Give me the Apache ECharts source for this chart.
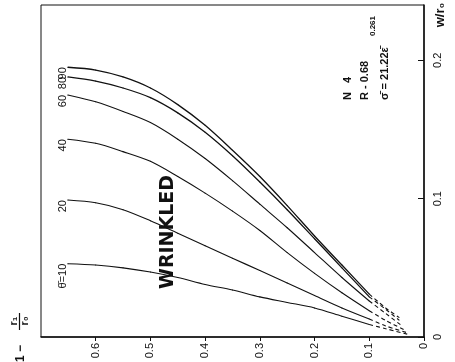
<!DOCTYPE html>
<html><head><meta charset="utf-8">
<script src="https://cdn.jsdelivr.net/npm/echarts@6/dist/echarts.min.js"></script>
<style>html,body{margin:0;padding:0;background:#fff}#c{width:455px;height:362px}</style>
</head><body><div id="c"></div>
<script>
// horizontal quantity: 1 - r1/r0 ; vertical quantity: w/r0
const ratioGrid = [0.651, 0.60, 0.55, 0.50, 0.45, 0.40, 0.35, 0.30, 0.25, 0.20, 0.15, 0.10, 0.07];
const curveNames = ['θ̄=10', '20', '40', '60', '80', '90'];
const tailRatio = [0.03, 0.03, 0.035, 0.04, 0.045, 0.045];
const w10 = [0.053,0.052,0.050,0.047,0.043,0.038,0.034,0.029,0.025,0.021,0.015,0.009,0.006,0.002];
const w20 = [0.099,0.097,0.092,0.084,0.075,0.066,0.057,0.048,0.039,0.030,0.021,0.013,0.008,0.003];
const w40 = [0.143,0.140,0.134,0.127,0.116,0.104,0.091,0.077,0.061,0.046,0.032,0.019,0.012,0.005];
const w60 = [0.175,0.170,0.163,0.155,0.143,0.129,0.113,0.096,0.079,0.061,0.043,0.026,0.017,0.008];
const w80 = [0.188,0.185,0.180,0.173,0.162,0.148,0.131,0.112,0.092,0.071,0.050,0.029,0.020,0.012];
const w90 = [0.195,0.193,0.188,0.180,0.168,0.153,0.135,0.116,0.095,0.073,0.052,0.031,0.021,0.014];
const curves = [w10, w20, w40, w60, w80, w90];
const ratioTicks = [0, 0.1, 0.2, 0.3, 0.4, 0.5, 0.6];
const wTicks = [0, 0.1, 0.2];
const dashBelow = 0.10;

const INK = '#111';
const FONT = '"Liberation Sans", Arial, sans-serif';

const series = [];
curves.forEach((w, i) => {
  const pts = w.map((v, j) => [j < ratioGrid.length ? ratioGrid[j] : tailRatio[i], v]);
  const main = pts.filter(p => p[0] >= dashBelow - 1e-9);
  const tail = pts.filter(p => p[0] <= dashBelow + 1e-9);
  series.push({
    type: 'line', smooth: 0.3,
    symbol: 'circle', symbolSize: 1, showSymbol: true,
    itemStyle: { color: INK },
    lineStyle: { color: INK, width: i >= 4 ? 1.3 : 1.1 },
    label: { show: false },
    data: main.map((p, k) => k === 0 ? {
      value: p,
      label: { show: true, formatter: curveNames[i], position: 'left', distance: 4,
               rotate: 90, fontSize: 11, color: INK, fontFamily: FONT }
    } : p),
    silent: true, animation: false
  });
  series.push({
    type: 'line', smooth: 0.3, symbol: 'none',
    lineStyle: { color: INK, width: 1.1, type: [4, 3] },
    data: tail, silent: true, animation: false
  });
});

const fmt = v => {
  if (ratioTicks.concat(wTicks).some(t => Math.abs(t - v) < 1e-9)) return v === 0 ? '0' : v.toFixed(1);
  return '';
};

const chart = echarts.init(document.getElementById('c'));
chart.setOption({
  animation: false,
  backgroundColor: '#fff',
  grid: { left: 41, right: 31, top: 5, bottom: 25, show: true, borderColor: INK, borderWidth: 1 },
  xAxis: {
    type: 'value', min: 0, max: 0.7, interval: 0.1, inverse: true, position: 'bottom',
    axisLine: { lineStyle: { color: INK, width: 1.5 } },
    axisTick: { inside: false, length: 4, lineStyle: { color: INK } },
    axisLabel: { rotate: 90, color: INK, fontSize: 11, fontFamily: FONT, margin: 6, showMaxLabel: false, formatter: fmt },
    splitLine: { show: false }
  },
  yAxis: {
    type: 'value', min: 0, max: 0.24, interval: 0.1, position: 'right',
    axisLine: { show: true, lineStyle: { color: INK, width: 1.5 } },
    axisTick: { show: true, inside: true, length: 6, lineStyle: { color: INK } },
    axisLabel: { rotate: 90, color: INK, fontSize: 11, fontFamily: FONT, margin: 8, showMaxLabel: false, formatter: fmt },
    splitLine: { show: false }
  },
  graphic: [
    { type: 'text', x: 168, y: 232, rotation: Math.PI / 2,
      style: { text: 'WRINKLED', font: 'bold 19px "DejaVu Sans", sans-serif', fill: INK, textAlign: 'center', textVerticalAlign: 'middle' } },
    { type: 'text', x: 348, y: 100, rotation: Math.PI / 2,
      style: { text: 'N   4', font: 'bold 11px ' + FONT, fill: INK, textAlign: 'left', textVerticalAlign: 'middle' } },
    { type: 'text', x: 365, y: 100, rotation: Math.PI / 2,
      style: { text: 'R - 0.68', font: 'bold 11px ' + FONT, fill: INK, textAlign: 'left', textVerticalAlign: 'middle' } },
    { type: 'text', x: 385, y: 100, rotation: Math.PI / 2,
      style: { text: 'σ̄ = 21.22ε̄', font: 'bold 11px ' + FONT, fill: INK, textAlign: 'left', textVerticalAlign: 'middle' } },
    { type: 'text', x: 373, y: 36, rotation: Math.PI / 2,
      style: { text: '0.261', font: 'bold 8px ' + FONT, fill: INK, textAlign: 'left', textVerticalAlign: 'middle' } },
    { type: 'text', x: 440, y: 15, rotation: Math.PI / 2,
      style: { text: 'w/r₀', font: 'bold 13px ' + FONT, fill: INK, textAlign: 'center', textVerticalAlign: 'middle' } },
    { type: 'text', x: 21, y: 362, rotation: Math.PI / 2,
      style: { text: '1 −', font: 'bold 12px ' + FONT, fill: INK, textAlign: 'left', textVerticalAlign: 'middle' } },
    { type: 'text', x: 14, y: 321, rotation: Math.PI / 2,
      style: { text: 'r₁', font: 'bold 11px ' + FONT, fill: INK, textAlign: 'center', textVerticalAlign: 'middle' } },
    { type: 'line', shape: { x1: 19.5, y1: 313, x2: 19.5, y2: 330 }, style: { stroke: INK, lineWidth: 1.2 } },
    { type: 'text', x: 25, y: 321, rotation: Math.PI / 2,
      style: { text: 'r₀', font: 'bold 11px ' + FONT, fill: INK, textAlign: 'center', textVerticalAlign: 'middle' } }
  ],
  series: series
});
</script>
</body></html>
